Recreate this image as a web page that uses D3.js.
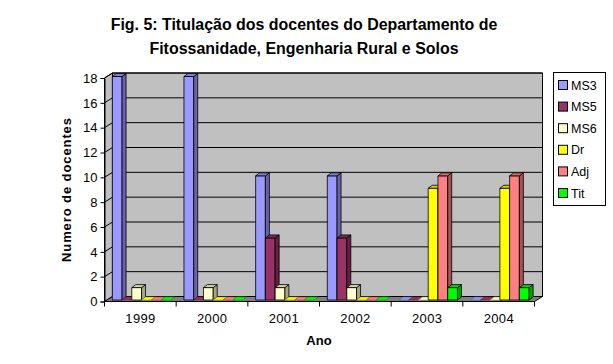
<!DOCTYPE html>
<html><head><meta charset="utf-8">
<script src="https://cdn.jsdelivr.net/npm/d3@7"></script>
<style>body{margin:0;background:#fff}svg{display:block;font-family:"Liberation Sans",Arial,sans-serif}</style>
</head><body><svg id="c" width="613" height="364"></svg>
<script>
const years = ["1999","2000","2001","2002","2003","2004"];
const seriesNames = ["MS3","MS5","MS6","Dr","Adj","Tit"];
const seriesColors = ["#9999FF","#993366","#FFFFCC","#FFFF00","#FF8080","#00FF00"];
const MS3 = [18,18,10,10,0,0];
const MS5 = [0,0,5,5,0,0];
const MS6 = [1,1,1,1,0,0];
const Dr  = [0,0,0,0,9,9];
const Adj = [0,0,0,0,10,10];
const Tit = [0,0,0,0,1,1];
const yTicks = [0,2,4,6,8,10,12,14,16,18];
const titleLines = ["Fig. 5: Titulação dos docentes do Departamento de","Fitossanidade, Engenharia Rural e Solos"];
const series = [MS3,MS5,MS6,Dr,Adj,Tit];

const svg = d3.select("#c");
const x0 = 104.5, x1 = 534.5, yBot = 301.5, yTop = 78;
const dx = 8, dy = -5;
const x = d3.scaleBand().domain(years).range([x0, x1]);
const y = d3.scaleLinear().domain([0,18]).range([yBot, yTop]);
const line = d3.line();

// back wall
svg.append("path").attr("d", line([[x0+dx,y(18)+dy],[x1+dx,y(18)+dy],[x1+dx,y(0)+dy],[x0+dx,y(0)+dy]])+"Z")
  .attr("fill","#C0C0C0").attr("stroke","#000").attr("stroke-width",1);
// left wall
svg.append("path").attr("d", line([[x0,y(0)],[x0,y(18)],[x0+dx,y(18)+dy],[x0+dx,y(0)+dy]])+"Z")
  .attr("fill","#C0C0C0").attr("stroke","#000").attr("stroke-width",1);
// gridlines
yTicks.filter(v=>v>0).forEach(v=>{
  svg.append("path").attr("d", line([[x0,y(v)],[x0+dx,y(v)+dy],[x1+dx,y(v)+dy]]))
    .attr("fill","none").attr("stroke","#000").attr("stroke-width",1);
});
// floor
svg.append("path").attr("d", line([[x0,y(0)],[x1,y(0)],[x1+dx,y(0)+dy],[x0+dx,y(0)+dy]])+"Z")
  .attr("fill","#808080").attr("stroke","#000").attr("stroke-width",1);

// bars
const fx = 1.5, fy = -1.5, bdx = 4, bdy = -3;
const bw = 9.75, off = 7.8;
years.forEach((yr,i)=>{
  series.forEach((s,j)=>{
    const v = s[i];
    const c = d3.color(seriesColors[j]);
    const L = x(yr) + off + j*bw + fx - 1.5, R = L + bw;
    const T = y(v) + fy, B = y(0) + fy;
    const g = svg.append("g").attr("stroke","#000").attr("stroke-width",0.8).attr("stroke-linejoin","round");
    if (v > 0) {
      g.append("path").attr("d", line([[L,B],[L,T],[R,T],[R,B]])+"Z").attr("fill", c.formatHex());
      g.append("path").attr("d", line([[R,B],[R,T],[R+bdx,T+bdy],[R+bdx,B+bdy]])+"Z").attr("fill", c.darker(1.2).formatHex());
      g.append("path").attr("d", line([[L,T],[L+bdx,T+bdy],[R+bdx,T+bdy],[R,T]])+"Z").attr("fill", c.darker(0.5).formatHex());
    } else {
      g.append("path").attr("d", line([[L,T],[L+bdx,T+bdy],[R+bdx,T+bdy],[R,T]])+"Z").attr("fill", c.formatHex()).attr("stroke", c.darker(1.5).formatHex()).attr("stroke-width",0.6);
    }
  });
});

// axes
const yAxis = d3.axisLeft(y).tickValues(yTicks).tickSize(4).tickPadding(3);
const ya = svg.append("g").attr("transform",`translate(${x0},0)`).call(yAxis);
ya.selectAll("text").attr("font-size",13).attr("font-family","Liberation Sans, Arial, sans-serif").attr("fill","#000");
ya.select(".domain").attr("stroke","#000");
const xa = svg.append("g").attr("transform",`translate(0,${yBot})`);
xa.append("line").attr("x1",x0).attr("x2",x1).attr("stroke","#000");
years.concat(["end"]).forEach((yr,i)=>{
  const xx = i < years.length ? x(yr) : x1;
  xa.append("line").attr("x1",xx).attr("x2",xx).attr("y1",0).attr("y2",5).attr("stroke","#000");
});
years.forEach(yr=>{
  xa.append("text").attr("x", x(yr)+x.bandwidth()/2).attr("y",21).attr("text-anchor","middle")
    .attr("font-size",13).attr("textLength",30).attr("lengthAdjust","spacing").text(yr);
});

// titles
const t = svg.append("text").attr("text-anchor","middle").attr("font-weight","bold").attr("font-size",15);
titleLines.forEach((l,i)=>t.append("tspan").attr("x",304).attr("y",30+i*24).text(l));
const w = t.select("tspan").node().getComputedTextLength();
t.attr("font-size", 15*387/w);
svg.append("text").attr("transform","translate(71,190) rotate(-90)").attr("text-anchor","middle")
  .attr("font-weight","bold").attr("font-size",13).attr("textLength",144).attr("lengthAdjust","spacing").text("Numero de docentes");
svg.append("text").attr("x",319).attr("y",345).attr("text-anchor","middle")
  .attr("font-weight","bold").attr("font-size",13).text("Ano");

// legend
const lg = svg.append("g");
lg.append("rect").attr("x",553.5).attr("y",72.5).attr("width",52).attr("height",133).attr("fill","#fff").attr("stroke","#000");
seriesNames.forEach((n,i)=>{
  const cy = 85 + i*21.6;
  lg.append("rect").attr("x",558.5).attr("y",cy-4.5).attr("width",9).attr("height",9).attr("fill",seriesColors[i]).attr("stroke","#000");
  lg.append("text").attr("x",571).attr("y",cy+4.5).attr("font-size",12.5).text(n);
});
</script></body></html>
